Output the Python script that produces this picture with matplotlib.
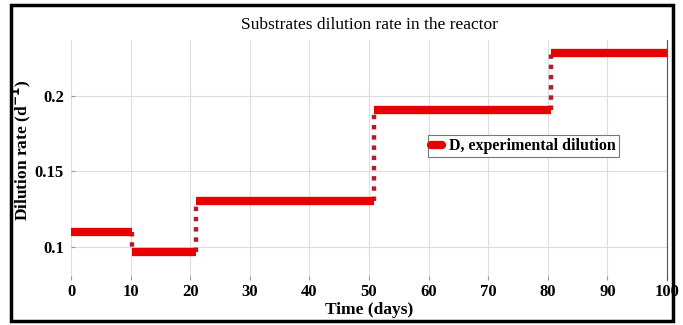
import matplotlib
matplotlib.use("Agg")
import matplotlib.pyplot as plt
from matplotlib.lines import Line2D
from matplotlib.patches import Rectangle

# step profile
t_edges = [0, 10.3, 20.9, 50.8, 80.6, 100]
rates = [0.110, 0.0963, 0.1305, 0.1905, 0.2285]
xticks = [0, 10, 20, 30, 40, 50, 60, 70, 80, 90, 100]
yticks = [0.1, 0.15, 0.2]
ytick_labels = ["0.1", "0.15", "0.2"]

RED = "#e60000"
DARK = "#b01e2e"
plt.rcParams["font.family"] = ["Liberation Serif", "DejaVu Serif"]

fig = plt.figure(figsize=(6.83, 3.25), dpi=100)
ax = fig.add_axes([71/683, 1-280/325, (667-71)/683, (280-40)/325])

ax.hlines(rates, t_edges[:-1], t_edges[1:], colors=RED, lw=6, zorder=3)
ax.vlines(t_edges[1:-1], rates[:-1], rates[1:], colors=DARK, lw=3.2,
          linestyles=(0, (1, 1.3)), zorder=2)

ax.set_xlim(0, 100); ax.set_ylim(0.0778, 0.2372)
ax.set_xticks(xticks); ax.set_yticks(yticks)
ax.set_xticklabels([str(v) for v in xticks], fontweight="bold", fontsize=12)
ax.set_yticklabels(ytick_labels, fontweight="bold", fontsize=12)
ax.tick_params(direction="in", length=3, color="#999999", pad=3)
ax.tick_params(axis="y", pad=5)
ax.grid(True, color="#dddddd", lw=0.8)
for s in ["top", "left", "bottom"]:
    ax.spines[s].set_visible(False)
ax.spines["right"].set_color("#555555"); ax.spines["right"].set_linewidth(0.8)

ax.set_title("Substrates dilution rate in the reactor", fontsize=12.5, pad=8)
ax.set_xlabel("Time (days)", fontweight="bold", fontsize=12.5, labelpad=1)
ax.set_ylabel("Dilution rate (d$^{\\mathbf{-1}}$)", fontweight="bold", fontsize=12.5)
ax.yaxis.set_label_coords(-0.064, 0.54)

h = Line2D([0], [0], color=RED, lw=6, solid_capstyle="round")
leg = ax.legend([h], ["D, experimental dilution"], loc="upper left",
                bbox_to_anchor=(428/683, 1-135/325), bbox_transform=fig.transFigure,
                prop={"weight": "bold", "size": 11.5}, handlelength=0.7,
                handletextpad=0.4, borderpad=0.2, borderaxespad=0, fancybox=False,
                framealpha=1, edgecolor="#777777")
leg.get_frame().set_linewidth(0.8)

fig.patches.append(Rectangle((11/683, 4/325), (673-11)/683, (320-4)/325,
                             transform=fig.transFigure, fill=False, lw=2.5,
                             edgecolor="black"))
fig.savefig("out.png", dpi=100)
